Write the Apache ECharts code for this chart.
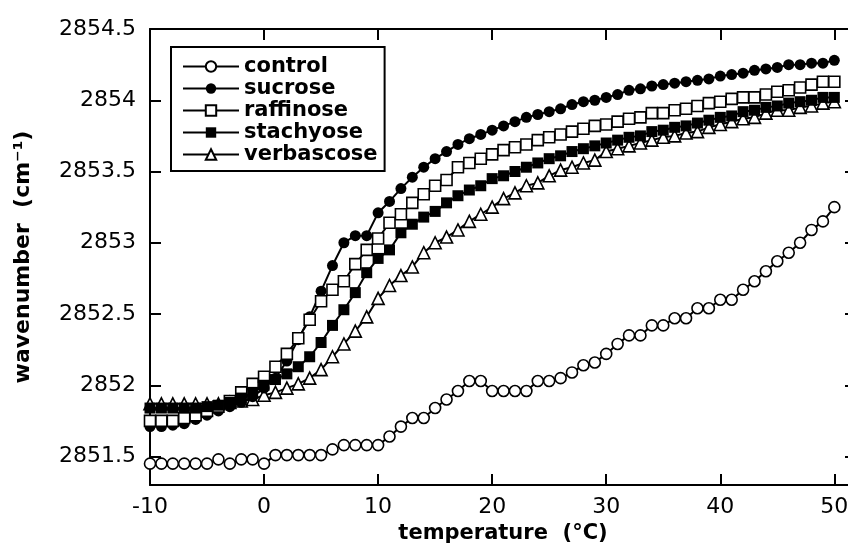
<!DOCTYPE html>
<html>
<head>
<meta charset="utf-8">
<script src="https://cdn.jsdelivr.net/npm/echarts@6/dist/echarts.min.js"></script>
<style>
  html, body { margin: 0; padding: 0; background: #fff; }
  #chart { width: 848px; height: 546px; }
</style>
</head>
<body>
<div id="chart"></div>
<script>
const temperature = [
  -10, -9, -8, -7, -6, -5, -4, -3, -2, -1,
  0, 1, 2, 3, 4, 5, 6, 7, 8, 9,
  10, 11, 12, 13, 14, 15, 16, 17, 18, 19,
  20, 21, 22, 23, 24, 25, 26, 27, 28, 29,
  30, 31, 32, 33, 34, 35, 36, 37, 38, 39,
  40, 41, 42, 43, 44, 45, 46, 47, 48, 49, 50
]

const control = [
  2851.45, 2851.45, 2851.45, 2851.45, 2851.45, 2851.45, 2851.48, 2851.45, 2851.48, 2851.48,
  2851.45, 2851.51, 2851.51, 2851.51, 2851.51, 2851.51, 2851.55, 2851.58, 2851.58, 2851.58,
  2851.58, 2851.64, 2851.71, 2851.77, 2851.77, 2851.84, 2851.90, 2851.96, 2852.03, 2852.03,
  2851.96, 2851.96, 2851.96, 2851.96, 2852.03, 2852.03, 2852.05, 2852.09, 2852.14, 2852.16,
  2852.22, 2852.29, 2852.35, 2852.35, 2852.42, 2852.42, 2852.47, 2852.47, 2852.54, 2852.54,
  2852.60, 2852.60, 2852.67, 2852.73, 2852.80, 2852.87, 2852.93, 2853.00, 2853.09, 2853.15, 2853.25
]

const sucrose = [
  2851.71, 2851.71, 2851.72, 2851.73, 2851.76, 2851.79, 2851.82, 2851.85, 2851.88, 2851.92,
  2851.98, 2852.05, 2852.17, 2852.32, 2852.48, 2852.66, 2852.84, 2853.00, 2853.05, 2853.05,
  2853.21, 2853.29, 2853.38, 2853.46, 2853.53, 2853.59, 2853.64, 2853.69, 2853.73, 2853.76,
  2853.79, 2853.82, 2853.85, 2853.88, 2853.90, 2853.92, 2853.94, 2853.97, 2853.99, 2854.00,
  2854.02, 2854.04, 2854.07, 2854.08, 2854.10, 2854.11, 2854.12, 2854.13, 2854.14, 2854.15,
  2854.17, 2854.18, 2854.19, 2854.21, 2854.22, 2854.23, 2854.25, 2854.25, 2854.26, 2854.26, 2854.28
]

const raffinose = [
  2851.75, 2851.75, 2851.75, 2851.77, 2851.79, 2851.82, 2851.85, 2851.89, 2851.95, 2852.01,
  2852.06, 2852.13, 2852.22, 2852.33, 2852.46, 2852.59, 2852.67, 2852.73, 2852.85, 2852.95,
  2853.03, 2853.14, 2853.20, 2853.28, 2853.34, 2853.40, 2853.44, 2853.53, 2853.56, 2853.59,
  2853.62, 2853.65, 2853.67, 2853.69, 2853.72, 2853.74, 2853.76, 2853.78, 2853.80, 2853.82,
  2853.83, 2853.85, 2853.87, 2853.88, 2853.91, 2853.91, 2853.93, 2853.94, 2853.96, 2853.98,
  2853.99, 2854.01, 2854.02, 2854.02, 2854.04, 2854.06, 2854.07, 2854.09, 2854.11, 2854.13, 2854.13
]

const stachyose = [
  2851.84, 2851.84, 2851.84, 2851.84, 2851.84, 2851.85, 2851.86, 2851.88, 2851.91, 2851.95,
  2852.00, 2852.04, 2852.08, 2852.13, 2852.20, 2852.30, 2852.42, 2852.53, 2852.65, 2852.79,
  2852.89, 2852.95, 2853.07, 2853.13, 2853.18, 2853.22, 2853.28, 2853.33, 2853.37, 2853.40,
  2853.45, 2853.47, 2853.50, 2853.53, 2853.56, 2853.59, 2853.61, 2853.64, 2853.66, 2853.68,
  2853.70, 2853.72, 2853.74, 2853.75, 2853.78, 2853.79, 2853.81, 2853.82, 2853.84, 2853.86,
  2853.88, 2853.89, 2853.92, 2853.93, 2853.95, 2853.96, 2853.98, 2853.99, 2854.00, 2854.02, 2854.02
]

const verbascose = [
  2851.87, 2851.87, 2851.87, 2851.87, 2851.87, 2851.87, 2851.87, 2851.88, 2851.89, 2851.90,
  2851.93, 2851.95, 2851.98, 2852.01, 2852.05, 2852.11, 2852.20, 2852.29, 2852.38, 2852.48,
  2852.61, 2852.70, 2852.77, 2852.83, 2852.93, 2853.00, 2853.04, 2853.09, 2853.15, 2853.20,
  2853.25, 2853.31, 2853.35, 2853.40, 2853.42, 2853.47, 2853.51, 2853.53, 2853.56, 2853.58,
  2853.64, 2853.66, 2853.68, 2853.70, 2853.72, 2853.74, 2853.75, 2853.77, 2853.78, 2853.81,
  2853.83, 2853.85, 2853.87, 2853.88, 2853.91, 2853.93, 2853.93, 2853.95, 2853.96, 2853.98, 2853.99
]

const xMin = -10
const xMax = 51.9
const yMin = 2851.3
const yMax = 2854.5

const chart = echarts.init(document.getElementById('chart'))

const font = 'DejaVu Sans'
const black = '#000'

const pair = (ys) => temperature.map((t, i) => [t, ys[i]])

const openStyle = { color: '#fff', borderColor: black, borderWidth: 1.6 }
const fillStyle = { color: black, borderWidth: 0 }

function makeSeries(name, ys, symbol, style, z) {
  return {
    name: name,
    type: 'line',
    data: pair(ys),
    symbol: symbol,
    symbolSize: symbol === 'triangle' ? 12 : 11,
    showAllSymbol: true,
    lineStyle: { color: black, width: 2 },
    itemStyle: style,
    z: z,
    emphasis: { disabled: true }
  }
}

const axisCommon = {
  type: 'value',
  axisLine: { show: true, onZero: false, lineStyle: { color: black, width: 2 } },
  axisTick: { show: true, inside: true, length: 11, lineStyle: { color: black, width: 2 } },
  splitLine: { show: false }
}

// y ticks every 0.5, hide the odd end tick at the axis min
const yFmt = (v) => Math.abs(v * 2 - Math.round(v * 2)) < 1e-6 ? String(+v.toFixed(1)) : ''
const xFmt = (v) => Math.abs(v / 10 - Math.round(v / 10)) < 1e-6 ? String(v) : ''

chart.setOption({
  animation: false,
  backgroundColor: '#fff',
  grid: { left: 150, top: 29, right: -8, bottom: 61, outerBoundsMode: 'none', containLabel: false },
  legend: {
    orient: 'vertical',
    left: 171,
    top: 47,
    padding: [9, 7, 6, 11],
    itemWidth: 56,
    itemHeight: 13,
    itemGap: 1,
    backgroundColor: '#fff',
    borderColor: black,
    borderWidth: 2,
    borderRadius: 0,
    lineStyle: { width: 2, color: black },
    textStyle: { fontFamily: font, fontSize: 21, fontWeight: 'bold', color: black },
    data: ['control', 'sucrose', 'raffinose', 'stachyose', 'verbascose']
  },
  xAxis: [
    Object.assign({}, axisCommon, {
      position: 'bottom',
      min: xMin,
      max: xMax,
      interval: 10,
      name: 'temperature  (°C)',
      nameLocation: 'middle',
      nameGap: 37,
      nameTextStyle: { fontFamily: font, fontSize: 21, fontWeight: 'bold', color: black },
      axisLabel: { fontFamily: font, fontSize: 22, color: black, margin: 11, formatter: xFmt }
    }),
    Object.assign({}, axisCommon, {
      position: 'top',
      min: xMin,
      max: xMax,
      interval: 10,
      axisLabel: { show: false }
    })
  ],
  yAxis: [
    Object.assign({}, axisCommon, {
      position: 'left',
      min: yMin,
      max: yMax,
      splitNumber: 6,
      name: 'wavenumber  (cm⁻¹)',
      nameLocation: 'middle',
      nameGap: 116,
      nameTextStyle: { fontFamily: font, fontSize: 22, fontWeight: 'bold', color: black },
      axisLabel: { fontFamily: font, fontSize: 22, color: black, margin: 14, formatter: yFmt }
    }),
    Object.assign({}, axisCommon, {
      position: 'right',
      min: yMin,
      max: yMax,
      splitNumber: 6,
      axisLabel: { show: false }
    })
  ],
  series: [
    makeSeries('control', control, 'circle', openStyle, 3),
    makeSeries('sucrose', sucrose, 'circle', fillStyle, 3),
    makeSeries('raffinose', raffinose, 'rect', openStyle, 3),
    makeSeries('stachyose', stachyose, 'rect', fillStyle, 3),
    makeSeries('verbascose', verbascose, 'triangle', openStyle, 2)
  ]
})
</script>
</body>
</html>
